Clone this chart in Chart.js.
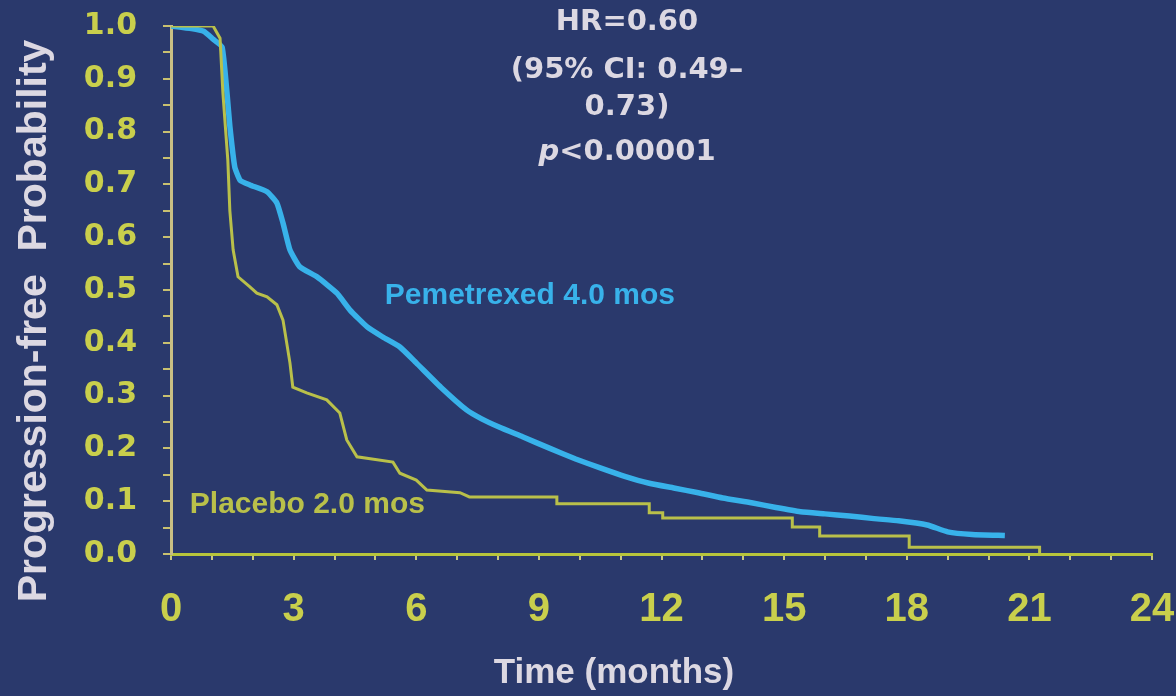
<!DOCTYPE html>
<html>
<head>
<meta charset="utf-8">
<script src="https://cdn.jsdelivr.net/npm/chart.js@4.4.1/dist/chart.umd.min.js"></script>
<style>
  html, body { margin: 0; padding: 0; background: #2a396c; }
  #wrap { width: 1176px; height: 696px; position: relative; }
</style>
</head>
<body>
<div id="wrap"><canvas id="kmChart"></canvas></div>
<script>
// DATA
const xTickLabels = ['0', '3', '6', '9', '12', '15', '18', '21', '24'];
const yTickLabels = ['0.0', '0.1', '0.2', '0.3', '0.4', '0.5', '0.6', '0.7', '0.8', '0.9', '1.0'];

// Pemetrexed, months / progression-free probability
const pemTimes = [0, 0.5, 0.8, 1.03, 1.25, 1.37, 1.44, 1.56, 1.69, 1.93, 2.35, 2.59, 2.74, 2.91, 3.15, 3.57,
  4.06, 4.38, 4.8, 5.18, 5.6, 6.0, 6.6, 7.23, 7.6, 8.04, 8.6, 9.27, 9.9, 10.5, 11.1, 11.7, 12.3, 12.9,
  13.5, 14.2, 14.8, 15.4, 16.0, 16.6, 17.2, 17.8, 18.5, 19.0, 19.6, 20.4];
const pemProb = [1.0, 0.995, 0.99, 0.975, 0.96, 0.873, 0.81, 0.733, 0.708, 0.699, 0.686, 0.665, 0.627, 0.576, 0.544, 0.525,
  0.494, 0.462, 0.43, 0.411, 0.392, 0.362, 0.316, 0.273, 0.256, 0.24, 0.222, 0.2, 0.18, 0.163, 0.147, 0.134, 0.125, 0.116,
  0.106, 0.097, 0.088, 0.08, 0.076, 0.072, 0.067, 0.063, 0.055, 0.042, 0.037, 0.035];

// Placebo
const plaTimes = [0, 1.03, 1.2, 1.27, 1.39, 1.44, 1.52, 1.64, 1.93, 2.1, 2.35, 2.59, 2.74, 2.91, 2.98, 3.32, 3.81,
  4.13, 4.3, 4.55, 5.43, 5.6, 6.0, 6.26, 7.07, 7.3, 9.44, 9.44, 11.7, 11.7, 12.03, 12.03, 15.2, 15.2,
  15.87, 15.87, 18.06, 18.06, 21.25, 21.25];
const plaProb = [1.0, 1.0, 0.977, 0.873, 0.746, 0.65, 0.576, 0.525, 0.506, 0.494, 0.487, 0.472, 0.443, 0.362, 0.316, 0.305, 0.292,
  0.267, 0.216, 0.184, 0.174, 0.153, 0.14, 0.121, 0.116, 0.108, 0.108, 0.095, 0.095, 0.078, 0.078, 0.068, 0.068, 0.051,
  0.051, 0.034, 0.034, 0.013, 0.013, 0.0];

const hrLines = ['HR=0.60', '(95% CI: 0.49\u2013', '0.73)'];
const pLine = ['p', '<0.00001'];
const pemLabel = 'Pemetrexed 4.0 mos';
const plaLabel = 'Placebo 2.0 mos';
const xTitle = 'Time (months)';
const yTitle = 'Progression-free  Probability';

const BG = '#2a396c';
const BLUE = '#38b2ea';
const OLIVE = '#b9c04a';
const TICK_YELLOW = '#c9cf4c';
const TEXT_WHITE = '#dcd8e2';

const toPoints = (xs, ys) => xs.map((x, i) => ({ x: x, y: ys[i] }));

const bgPlugin = {
  id: 'bg',
  beforeDraw(chart) {
    const c = chart.ctx;
    c.save();
    c.fillStyle = BG;
    c.fillRect(0, 0, chart.width, chart.height);
    c.restore();
  }
};

// texts on the slide
const textPlugin = {
  id: 'texts',
  afterDraw(chart) {
    const c = chart.ctx;
    const xs = chart.scales.x, ys = chart.scales.y;
    c.save();
    c.textBaseline = 'middle';

    // HR block
    c.fillStyle = TEXT_WHITE;
    c.textAlign = 'center';
    c.font = 'bold 29px "DejaVu Sans"';
    const hrY = [22, 70, 107];
    hrLines.forEach((t, i) => c.fillText(t, 627, hrY[i]));
    c.font = 'italic bold 29px "DejaVu Sans"';
    const w1 = c.measureText(pLine[0]).width;
    c.font = 'bold 29px "DejaVu Sans"';
    const w2 = c.measureText(pLine[1]).width;
    const start = 627 - (w1 + w2) / 2;
    c.textAlign = 'left';
    c.font = 'italic bold 29px "DejaVu Sans"';
    c.fillText(pLine[0], start, 152);
    c.font = 'bold 29px "DejaVu Sans"';
    c.fillText(pLine[1], start + w1, 152);

    // curve labels
    c.font = 'bold 30px "Liberation Sans"';
    c.fillStyle = BLUE;
    c.fillText(pemLabel, xs.getPixelForValue(5.23), ys.getPixelForValue(0.489));
    c.fillStyle = OLIVE;
    c.fillText(plaLabel, xs.getPixelForValue(0.46), ys.getPixelForValue(0.093));

    // axis titles
    c.fillStyle = TEXT_WHITE;
    c.textAlign = 'center';
    c.font = 'bold 35px "Liberation Sans"';
    c.fillText(xTitle, 614, 673);
    c.translate(35, 321);
    c.rotate(-Math.PI / 2);
    c.font = 'bold 41px "Liberation Sans"';
    c.fillText(yTitle, 0, 0);
    c.restore();
  }
};

const ctx = document.getElementById('kmChart').getContext('2d');
const chart = new Chart(ctx, {
  type: 'line',
  data: {
    datasets: [{
      label: 'Placebo',
      data: toPoints(plaTimes, plaProb),
      borderColor: OLIVE,
      borderWidth: 3,
      pointRadius: 0,
      tension: 0,
      order: 0
    },
    {
      label: 'Pemetrexed',
      data: toPoints(pemTimes, pemProb),
      borderColor: BLUE,
      borderWidth: 5.5,
      pointRadius: 0,
      tension: 0.15,
      order: 1
    }]
  },
  options: {
    responsive: true,
    maintainAspectRatio: false,
    animation: false,
    layout: { padding: { top: 26, right: 24, left: 0, bottom: 0 } },
    plugins: { legend: { display: false }, tooltip: { enabled: false } },
    scales: {
      x: {
        type: 'linear',
        min: 0,
        max: 24,
        afterFit: (s) => { s.height = 142; s.paddingLeft = 0; s.paddingRight = 0; },
        border: { display: true, color: '#b8c53c', width: 3 },
        grid: { drawOnChartArea: false, drawTicks: true, tickLength: 6, color: '#c8c880', lineWidth: 2 },
        ticks: {
          stepSize: 1,
          autoSkip: false,
          maxRotation: 0,
          padding: 26,
          color: TICK_YELLOW,
          font: { family: 'Liberation Sans', weight: 'bold', size: 40 },
          callback: (v) => (v % 3 === 0 ? xTickLabels[v / 3] : '')
        }
      },
      y: {
        min: 0,
        max: 1,
        afterFit: (s) => { s.width = 171; s.paddingTop = 0; s.paddingBottom = 0; },
        border: { display: true, color: '#c9bf84', width: 3 },
        grid: { drawOnChartArea: false, drawTicks: true, tickLength: 8, color: '#c8c070', lineWidth: 2 },
        ticks: {
          stepSize: 0.05,
          autoSkip: false,
          padding: 26,
          color: TICK_YELLOW,
          font: { family: 'DejaVu Sans', weight: 'bold', size: 30 },
          callback: (v) => {
            const k = Math.round(v * 20);
            return k % 2 === 0 ? yTickLabels[k / 2] : '';
          }
        }
      }
    }
  },
  plugins: [bgPlugin, textPlugin]
});
</script>
</body>
</html>
